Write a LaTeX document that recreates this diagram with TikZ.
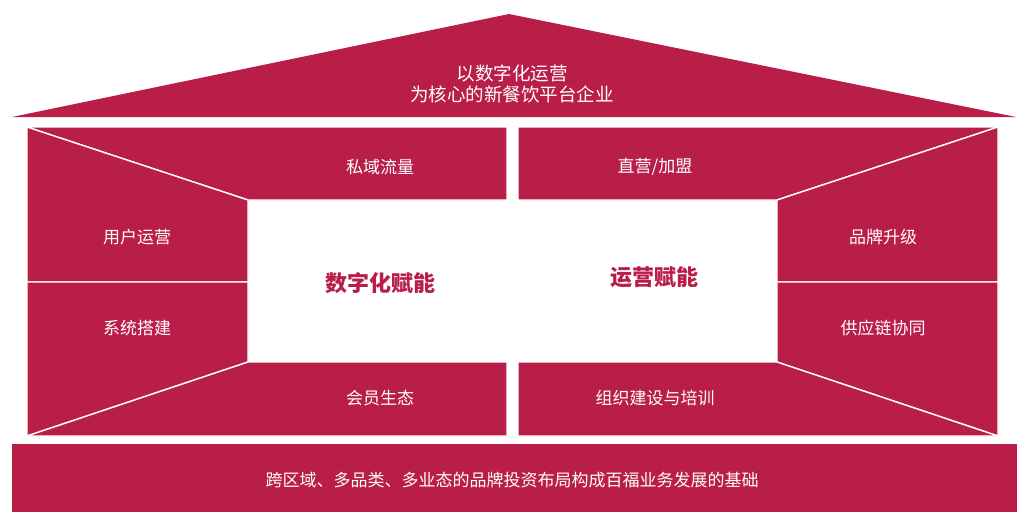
\documentclass[tikz,border=0pt]{standalone}
\usepackage{fontspec}
\newfontfamily\cjk{Noto Sans CJK SC}
\definecolor{carmin}{RGB}{185,30,72}
\tikzset{
  panel/.style={fill=carmin,draw=white,line width=1.4pt,line join=miter},
  etiq/.style={text=white,font=\cjk\fontsize{17}{20}\selectfont},
  titulo/.style={text=carmin,font=\cjk\bfseries\fontsize{22}{26}\selectfont},
}
\begin{document}
\begin{tikzpicture}[x=1pt,y=-1pt]
\useasboundingbox (0,0) rectangle (1024,528);
\def\ext{27};%borde exterior del cuerpo
\def\int{248};%borde del hueco blanco
\def\med{507};%mitad del cuerpo

%Techo
\fill[carmin] (12,117) -- (509,14) -- (1016,117) -- cycle;
\node[etiq,align=center,font=\cjk\fontsize{18.5}{21}\selectfont] (techo) at (512,84) {以数字化运营\\为核心的新餐饮平台企业};

%Cuerpo (mitad izquierda y su espejo)
\foreach \s/\d in {1/0,-1/1025}{
  \begin{scope}[shift={(\d,0)},xscale=\s]
    \draw[panel] (\ext,127) -- (\med,127) -- (\med,200) -- (\int,200) -- cycle;
    \draw[panel] (\ext,127) -- (\int,200) -- (\int,282) -- (\ext,282) -- cycle;
    \draw[panel] (\ext,282) -- (\int,282) -- (\int,362) -- (\ext,436) -- cycle;
    \draw[panel] (\ext,436) -- (\int,362) -- (\med,362) -- (\med,436) -- cycle;
  \end{scope}
}

%Etiquetas
\node[etiq] (privado) at (380,167) {私域流量};
\node[etiq] (usuario) at (137,237) {用户运营};
\node[etiq] (sistema) at (137,328) {系统搭建};
\node[etiq] (miembros) at (380,398) {会员生态};
\node[etiq] (directo) at (655,167) {直营/加盟};
\node[etiq] (marca) at (883,237) {品牌升级};
\node[etiq] (cadena) at (883,328) {供应链协同};
\node[etiq] (organiz) at (655,398) {组织建设与培训};
\node[titulo] (digital) at (380,283) {数字化赋能};
\node[titulo] (operac) at (654,277) {运营赋能};

%Base
\fill[carmin] (12,444) rectangle (1017,512);
\node[etiq] (base) at (512,480) {跨区域、多品类、多业态的品牌投资布局构成百福业务发展的基础};
\end{tikzpicture}
\end{document}
